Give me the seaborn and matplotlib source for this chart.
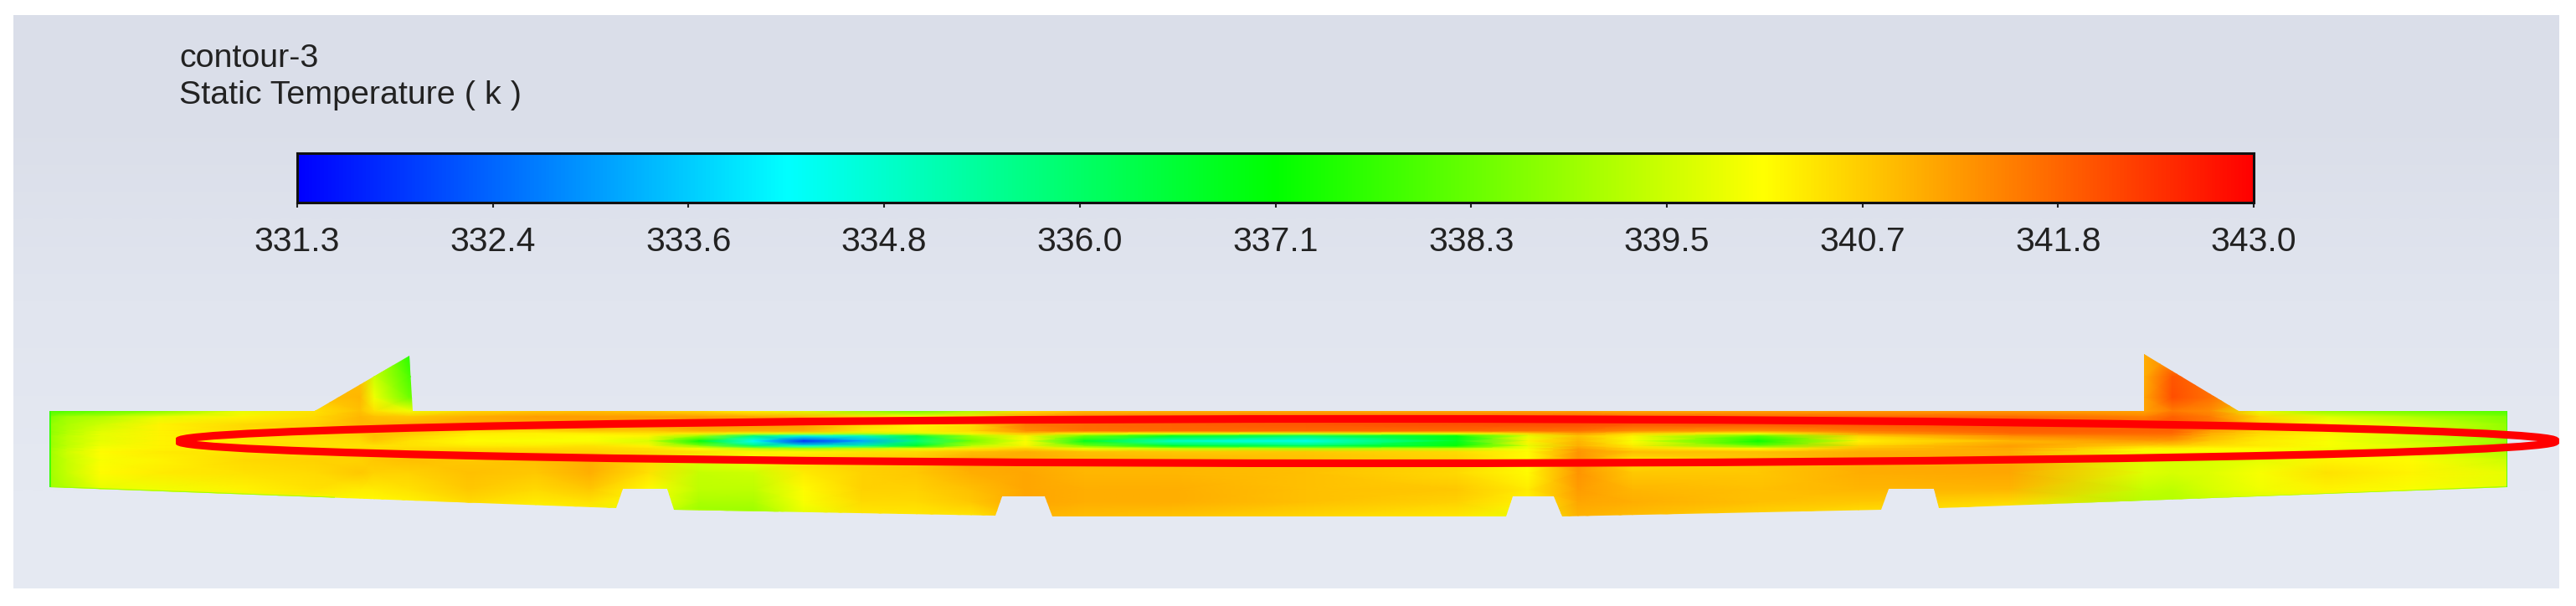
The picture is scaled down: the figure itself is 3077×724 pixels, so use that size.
import numpy as np
import matplotlib
matplotlib.use("Agg")
import matplotlib.pyplot as plt
from matplotlib.colors import LinearSegmentedColormap, Normalize
from matplotlib.patches import Ellipse, Polygon, Rectangle
import seaborn as sns

sns.set_theme(style="white")
plt.rcParams["font.family"] = ["Liberation Sans", "DejaVu Sans"]

title_lines = ["contour-3", "Static Temperature ( k )"]
tick_labels = ["331.3", "332.4", "333.6", "334.8", "336.0", "337.1",
               "338.3", "339.5", "340.7", "341.8", "343.0"]
t_min, t_max = 331.3, 343.0

# Station positions along the section and heights of each sampled row (image px)
stations = [59, 80, 120, 190, 290, 376, 430, 447, 489, 560, 640, 705, 775, 835, 900, 960, 1030, 1095, 1160,
            1225, 1295, 1400, 1560, 1740, 1825, 1885, 1950, 2100, 2220, 2400, 2561, 2595, 2640, 2700, 2780, 2880, 2995]
heights = [423, 450, 475, 491, 498, 507, 515, 518, 521, 527, 533, 536, 540, 550, 565, 585, 600, 620]

# Temperatures, one list per height
t_423 = [340, 340, 340, 340, 340, 340.8, 340.8, 339.5, 337.6, 340, 340, 340, 340, 340, 340, 340, 340, 340, 340,
         340, 340, 340, 340, 340, 340, 340, 340, 340, 340, 340, 341.0, 341.1, 341.3, 341, 340, 340, 340]
t_450 = [340, 340, 340, 340, 340, 340.8, 340.8, 339.5, 338.0, 340, 340, 340, 340, 340, 340, 340, 340, 340, 340,
         340, 340, 340, 340, 340, 340, 340, 340, 340, 340, 340, 341.0, 342.0, 341.7, 341, 340, 340, 340]
t_475 = [340, 340, 340, 340, 340, 340.8, 340.9, 339.9, 338.4, 340, 340, 340, 340, 340, 340, 340, 340, 340, 340,
         340, 340, 340, 340, 340, 340, 340, 340, 340, 340, 340, 341.1, 342.1, 341.7, 341, 340, 340, 340]
t_491 = [338.0, 338.0, 338.2, 338.6, 339.8, 340.4, 340.8, 340.4, 339.9, 340.5, 340.7, 340.8, 340.7, 340.5, 340.2, 339.7,
         338.9, 338.4, 339.1, 340.4, 340.8, 340.9, 341.0, 341.0, 341.1, 341.1, 341.0, 341.1, 341.2, 341.2, 341.1, 341.6,
         341.4, 339.8, 338.8, 338.4, 338.0]
t_498 = [338.6, 339.0, 339.2, 339.8, 340.2, 340.5, 340.9, 340.8, 340.7, 341.0, 341.2, 341.2, 341.2, 341.2, 341.1, 340.9,
         340.4, 340.1, 340.4, 341.2, 341.5, 341.6, 341.7, 341.8, 341.8, 341.9, 341.8, 341.8, 341.8, 341.8, 341.5, 341.9,
         341.6, 340.5, 339.7, 339.2, 338.6]
t_507 = [338.8, 339.1, 339.5, 340.2, 340.5, 340.6, 340.9, 340.9, 341.0, 341.1, 341.0, 341.2, 341.2, 341.3, 341.3, 341.2,
         340.6, 340.2, 340.5, 341.6, 341.8, 341.9, 342.0, 342.1, 342.1, 342.1, 342.0, 342.0, 342.0, 342.0, 341.9, 342.0,
         341.7, 340.7, 340.1, 339.6, 338.8]
t_515 = [338.8, 339.2, 339.7, 340.2, 340.5, 340.5, 340.8, 340.9, 340.8, 340.5, 340.5, 340.7, 340.7, 341.0, 341.0, 341.0,
         340.3, 340.2, 340.5, 341.4, 341.7, 341.8, 341.8, 341.8, 341.7, 341.7, 341.4, 341.3, 341.6, 341.9, 341.9, 341.9,
         341.2, 340.6, 340.2, 339.8, 338.9]
t_518 = [338.8, 339.2, 339.8, 340.2, 340.4, 340.5, 340.7, 340.8, 340.7, 340.3, 340.2, 340.3, 340.4, 340.3, 339.8, 339.6,
         339.4, 339.6, 340.2, 340.8, 340.2, 340.0, 339.8, 340.0, 340.6, 341.2, 340.6, 340.0, 341.2, 341.8, 341.8, 341.8,
         341.0, 340.5, 340.2, 339.7, 338.9]
t_522 = [338.9, 339.3, 339.8, 340.2, 340.4, 340.5, 340.6, 340.8, 340.6, 340.2, 340.2, 340.1, 340.2, 339.0, 335.8, 334.6,
         335.0, 336.4, 339.0, 340.2, 338.4, 336.8, 336.0, 337.0, 339.8, 340.8, 340.2, 338.2, 340.6, 341.4, 341.6, 341.6,
         340.9, 340.4, 340.1, 339.6, 338.9]
t_527 = [338.9, 339.3, 339.8, 340.2, 340.3, 340.4, 340.5, 340.7, 340.4, 340.1, 340.0, 340.0, 339.6, 337.0, 334.2, 331.8,
         333.2, 335.8, 338.4, 340.0, 336.8, 334.8, 334.4, 336.8, 340.2, 340.9, 340.0, 337.2, 340.2, 340.9, 341.2, 341.2,
         340.7, 340.3, 340.0, 339.5, 338.9]
t_532 = [338.9, 339.3, 339.9, 340.2, 340.4, 340.4, 340.4, 340.4, 340.4, 340.3, 340.3, 340.4, 340.2, 338.8, 336.0, 334.8,
         335.4, 336.8, 339.3, 340.2, 338.6, 336.8, 336.2, 337.2, 339.8, 341.0, 340.3, 338.4, 340.6, 341.2, 340.6, 340.6,
         340.4, 340.3, 340.0, 339.7, 339.0]
t_536 = [339.0, 339.4, 340.0, 340.2, 340.4, 340.4, 340.5, 340.5, 340.5, 340.5, 340.5, 340.5, 340.4, 340.0, 339.3, 339.0,
         339.4, 339.8, 340.3, 340.6, 339.9, 339.5, 339.2, 339.4, 340.0, 341.2, 340.5, 340.1, 340.8, 341.1, 340.2, 340.2,
         340.1, 340.1, 339.9, 339.7, 339.1]
t_540 = [339.0, 339.5, 340.1, 340.3, 340.4, 340.5, 340.6, 340.6, 340.6, 340.6, 340.6, 340.6, 340.5, 340.4, 340.2, 340.2,
         340.4, 340.5, 340.8, 341.0, 340.8, 340.7, 340.7, 340.5, 340.1, 341.3, 340.8, 340.8, 341.0, 341.0, 340.0, 340.0,
         340.0, 340.0, 339.9, 339.8, 339.2]
t_550 = [339.0, 339.4, 340.0, 340.2, 340.5, 340.6, 340.6, 340.7, 340.8, 340.7, 340.8, 341.0, 340.5, 339.7, 340.0, 340.5,
         340.6, 340.7, 341.1, 341.0, 340.9, 340.9, 340.8, 340.6, 340.1, 341.3, 340.4, 340.7, 341.0, 341.1, 339.7, 339.6,
         339.6, 339.8, 340.2, 340.1, 339.5]
t_565 = [339.0, 339.4, 340.1, 340.3, 340.4, 340.5, 340.7, 340.6, 340.6, 340.8, 340.7, 341.0, 340.4, 339.4, 339.5, 340.3,
         340.6, 340.7, 341.0, 341.1, 340.9, 340.9, 340.8, 340.5, 340.1, 341.3, 340.7, 340.7, 341.0, 341.1, 339.7, 339.6,
         339.7, 340.0, 340.4, 340.2, 339.8]
t_585 = [339.0, 339.2, 339.8, 339.9, 340.2, 340.4, 340.3, 340.3, 340.4, 340.7, 340.5, 340.7, 340.1, 339.3, 339.3, 340.1,
         340.6, 340.6, 340.8, 341.1, 341.0, 341.0, 340.8, 340.7, 340.3, 341.2, 340.9, 340.8, 340.9, 340.9, 339.4, 339.3,
         339.6, 339.9, 340.2, 340.0, 339.8]
t_600 = [339.0, 339.2, 339.5, 339.6, 339.7, 339.9, 340.1, 340.1, 340.2, 340.5, 340.3, 340.4, 340.0, 339.1, 339.1, 340.0,
         340.5, 340.5, 340.7, 341.1, 341.0, 341.0, 340.8, 340.6, 340.2, 341.1, 341.0, 340.8, 340.7, 340.5, 339.2, 339.2,
         339.4, 339.6, 339.8, 339.6, 339.6]
t_620 = [339.0, 339.2, 339.5, 339.5, 339.5, 339.6, 339.8, 339.8, 339.8, 340.1, 340.0, 340.0, 339.5, 338.8, 338.8, 339.7,
         340.3, 340.3, 340.3, 340.9, 340.8, 340.7, 340.5, 340.3, 339.8, 340.9, 340.8, 340.5, 340.3, 340.2, 339.0, 339.0,
         339.2, 339.4, 339.4, 339.2, 339.2]
field_rows = [t_423, t_450, t_475, t_491, t_498, t_507, t_515, t_518, t_522, t_527, t_532, t_536, t_540, t_550,
              t_565, t_585, t_600, t_620]

# Outline of the section (image px)
outline_x = [59, 376, 489, 493, 2561, 2561, 2674, 2995, 2995, 2316, 2310, 2256, 2247, 1866, 1856, 1807, 1799,
             1257, 1248, 1197, 1189, 805, 797, 744, 736, 59]
outline_y = [491, 491, 425, 491, 491, 423, 491, 491, 582, 607, 584, 584, 609, 617, 593, 593, 617,
             617, 593, 593, 616, 609, 584, 584, 607, 582]

cmap = LinearSegmentedColormap.from_list("fluent", ["#0000ff", "#00ffff", "#00ff00", "#ffff00", "#ff0000"], N=512)
norm = Normalize(t_min, t_max)

W, H = 3077, 724
fig = plt.figure(figsize=(W / 100, H / 100), dpi=100, facecolor="white")
ax = fig.add_axes([0, 0, 1, 1])
ax.set_xlim(0, W)
ax.set_ylim(H, 0)
ax.axis("off")

bg = LinearSegmentedColormap.from_list("bg", ["#dadee9", "#e1e5ef", "#e5e9f2"])
ax.imshow([[0.0], [0.5], [1.0]], cmap=bg, extent=(16, 3057, 703, 18), aspect="auto",
          interpolation="bilinear", zorder=0)

outline = Polygon(np.column_stack([outline_x, outline_y]), closed=True, transform=ax.transData,
                  facecolor="none", edgecolor="none")
ax.add_patch(outline)
mesh = ax.pcolormesh(stations, heights, np.array(field_rows), shading="gouraud", cmap=cmap, norm=norm,
                     zorder=1, antialiased=True)
mesh.set_clip_path(outline)

# thin cold fringe along the section's edges
fringes = [([59, 400], [582, 595], "#a0ff00"),
           ([805, 930], [609, 612], "#b4ff00"),
           ([2440, 2995], [604, 582], "#a0ff00"),
           ([59, 59], [491, 582], "#30ff00"),
           ([2995, 2995], [491, 582], "#30ff00")]
for fx, fy, fc in fringes:
    line, = ax.plot(fx, fy, color=fc, lw=1.8, zorder=2, solid_capstyle="butt")
    line.set_clip_path(outline)

ring = Ellipse((1633, 527), 2 * 1420, 53, facecolor="none", edgecolor="#ff0000", lw=6.6, zorder=3)
ax.add_patch(ring)
ring.set_clip_path(Rectangle((210, 480), 3057 - 210, 90, transform=ax.transData))

ax.text(214, 70, title_lines[0], fontsize=28.4, color="#222222", va="center", ha="left", zorder=4)
ax.text(214, 114, title_lines[1], fontsize=28.4, color="#222222", va="center", ha="left", zorder=4)

cax = fig.add_axes([355 / W, 1 - 242 / H, (2692 - 355) / W, 59 / H])
strip = np.linspace(t_min, t_max, 512).reshape(1, -1)
sns.heatmap(strip, ax=cax, cmap=cmap, vmin=t_min, vmax=t_max, cbar=False, xticklabels=False, yticklabels=False)
cax.set_xticks(np.linspace(0, strip.shape[1], len(tick_labels)))
cax.set_xticklabels(tick_labels, rotation=0, fontsize=29.5, color="#222222")
cax.tick_params(axis="x", length=4, width=1.5, color="#222222", bottom=True, pad=16)
cax.set_ylabel("")
for spine in cax.spines.values():
    spine.set_visible(True)
    spine.set_edgecolor("#111111")
    spine.set_linewidth(2.2)

fig.savefig("out.png", dpi=100, facecolor="white")
